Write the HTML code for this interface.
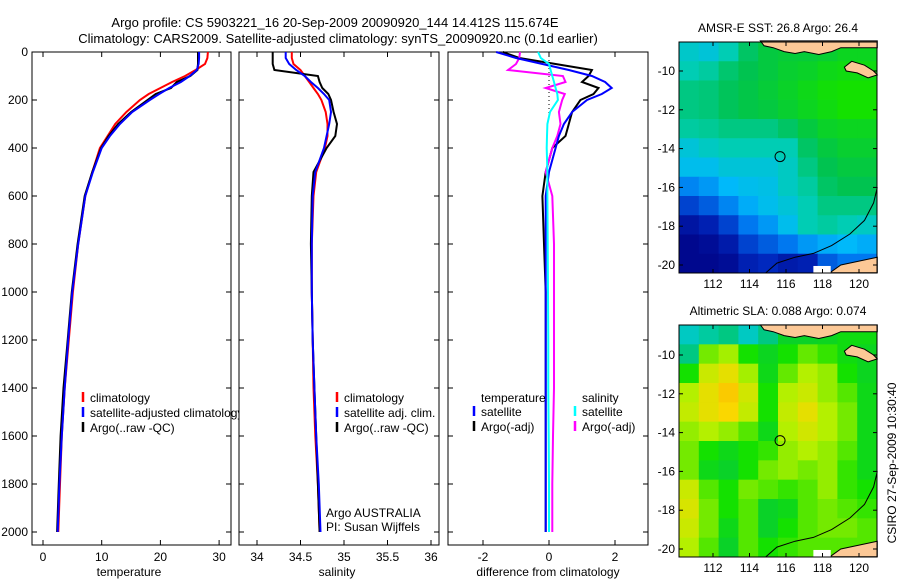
<!DOCTYPE html>
<html><head><meta charset="utf-8"><style>
html,body{margin:0;padding:0;background:#fff}
svg{display:block;font-family:"Liberation Sans",sans-serif}
</style></head><body>
<svg id="c" width="900" height="580" xmlns="http://www.w3.org/2000/svg">
<defs><clipPath id="cp1"><rect x="0" y="0" width="239" height="580"/></clipPath></defs>
<text x="335" y="27" font-size="13" text-anchor="middle">Argo profile: CS 5903221_16 20-Sep-2009 20090920_144 14.412S 115.674E</text>
<text x="338" y="43" font-size="13" text-anchor="middle">Climatology: CARS2009. Satellite-adjusted climatology: synTS_20090920.nc (0.1d earlier)</text>
</svg>
<script>
// ---- data ----
const depthTicks=[0,200,400,600,800,1000,1200,1400,1600,1800,2000];
const tempTicks=[0,10,20,30];
const salTicks=[34,34.5,35,35.5,36];
const salTickLabels=["34","34.5","35","35.5","36"];
const diffTicks=[-2,0,2];
const depths=[0,25,50,75,100,125,150,175,200,250,300,350,400,500,600,800,1000,1200,1400,1600,1800,2000];
const tempClim=[28.1,28.0,27.6,26.0,24.2,22.0,20.0,18.0,16.5,14.2,12.3,11.0,9.7,8.4,7.2,6.0,5.1,4.4,3.7,3.2,2.9,2.6];
const tempSat=[26.6,26.6,26.5,26.2,25.0,23.5,21.5,19.8,18.2,15.2,13.1,11.4,10.0,8.5,7.2,6.0,5.0,4.3,3.7,3.2,2.8,2.5];
const tempArgo=[26.4,26.4,26.4,26.3,25.1,22.8,21.8,19.2,17.8,15.0,12.8,11.2,9.9,8.4,7.1,5.9,4.9,4.2,3.5,3.0,2.7,2.4];
const salClim=[34.4,34.4,34.42,34.5,34.55,34.6,34.65,34.7,34.74,34.79,34.81,34.81,34.78,34.68,34.65,34.63,34.63,34.64,34.65,34.67,34.7,34.72];
const salSat=[34.33,34.33,34.37,34.45,34.55,34.62,34.7,34.77,34.83,34.85,34.83,34.8,34.77,34.67,34.64,34.63,34.63,34.64,34.66,34.68,34.71,34.73];
const salArgo=[34.18,34.18,34.18,34.2,34.7,34.72,34.75,34.82,34.85,34.88,34.92,34.9,34.8,34.65,34.63,34.62,34.63,34.64,34.66,34.68,34.7,34.72];
const dTempSat=[-1.6,-1.0,-0.2,0.6,1.3,1.7,1.9,1.6,1.15,0.7,0.45,0.3,0.2,0.0,-0.1,-0.1,-0.1,-0.1,-0.1,-0.1,-0.1,-0.1];
const dTempArgo=[-1.4,-0.9,0.2,1.3,1.2,1.0,1.5,1.35,0.95,0.7,0.6,0.5,0.1,-0.1,-0.2,-0.15,-0.1,-0.1,-0.1,-0.1,-0.1,-0.1];
const dSalSat=[-0.33,-0.25,0.0,0.05,0.1,0.15,0.2,0.25,0.27,0.03,-0.05,-0.06,-0.07,-0.05,-0.05,-0.04,-0.03,-0.02,-0.02,-0.01,0.0,0.0];
const dSalArgo=[-0.88,-0.9,-1.0,-1.24,0.42,0.5,-0.1,0.48,0.4,0.3,0.35,0.25,0.1,-0.1,0.1,0.15,0.15,0.15,0.15,0.12,0.1,0.1];
const lonTicks=[112,114,116,118,120];
const latTicks=[-10,-12,-14,-16,-18,-20];
const sstGrid=[
[.47,.45,.5,.58,.62,.63,.63,.64,.66,.66],
[.5,.52,.57,.6,.62,.64,.65,.67,.68,.68],
[.55,.56,.59,.61,.63,.65,.67,.69,.7,.7],
[.55,.56,.59,.61,.62,.64,.66,.68,.7,.7],
[.52,.53,.55,.55,.55,.58,.62,.65,.66,.66],
[.45,.48,.5,.5,.5,.5,.58,.62,.64,.64],
[.42,.42,.45,.45,.45,.48,.55,.6,.62,.62],
[.32,.35,.4,.42,.43,.48,.52,.58,.6,.6],
[.2,.25,.32,.38,.42,.45,.5,.55,.55,.55],
[.08,.12,.2,.3,.35,.42,.5,.52,.5,.48],
[.03,.05,.1,.2,.25,.3,.35,.38,.4,.38],
[.03,.03,.05,.12,.15,.1,.12,.25,.3,.3]];
const slaGrid=[
[.48,.52,.55,.48,.55,.65,.65,.66,.68,.68],
[.55,.76,.79,.7,.66,.7,.75,.72,.68,.66],
[.7,.83,.87,.79,.67,.75,.8,.78,.7,.66],
[.8,.87,.92,.84,.7,.8,.83,.78,.74,.67],
[.82,.87,.9,.82,.7,.82,.87,.8,.76,.67],
[.78,.8,.78,.74,.67,.8,.84,.8,.76,.67],
[.76,.7,.67,.7,.72,.78,.8,.78,.74,.67],
[.76,.67,.65,.7,.76,.78,.76,.78,.72,.67],
[.83,.74,.7,.76,.74,.72,.74,.78,.72,.7],
[.85,.76,.7,.74,.65,.67,.74,.76,.74,.72],
[.83,.76,.67,.74,.65,.7,.74,.76,.76,.74],
[.8,.74,.65,.74,.7,.72,.74,.74,.74,.74]];
const argoLon=115.674, argoLat=-14.412;
const coastLon=[114.9,115.5,116.5,117.5,118.5,119.5,120.3,120.8,121];
const coastLat=[-20.4,-19.9,-19.6,-19.4,-19.0,-18.4,-17.7,-16.8,-16.0];
// ---- helpers ----
const S=document.getElementById('c'),NS='http://www.w3.org/2000/svg';
function mk(t,a,p){const e=document.createElementNS(NS,t);for(const k in a)e.setAttribute(k,a[k]);(p||S).appendChild(e);return e;}
const yD=d=>52+d*0.24;
const xT=v=>43+v*5.87;
const xS=v=>257+(v-34)*87;
const xDf=v=>549+v*33;
function panel(x0,x1,name){
  const r=mk('rect',{x:x0,y:52,width:x1-x0,height:493,fill:'none',stroke:'#000','stroke-width':1});
  
  
  depthTicks.forEach(d=>{mk('line',{x1:x0,x2:x0+5,y1:yD(d),y2:yD(d),stroke:'#000'});mk('line',{x1:x1,x2:x1-5,y1:yD(d),y2:yD(d),stroke:'#000'});});
}
function xticks(vals,labels,fx,title,tx,name){
  vals.forEach((v,i)=>{const x=fx(v);mk('line',{x1:x,x2:x,y1:52,y2:57,stroke:'#000'});mk('line',{x1:x,x2:x,y1:545,y2:540,stroke:'#000'});
    const t=mk('text',{x:x,y:561,'font-size':12,'text-anchor':'middle'});t.textContent=labels[i];
    
    });
  const t=mk('text',{x:tx,y:576,'font-size':12,'text-anchor':'middle'});t.textContent=title;
  
  
}
function line(vals,fx,col,w,name){
  const pts=vals.map((v,i)=>fx(v).toFixed(1)+','+yD(depths[i]).toFixed(1)).join(' ');
  const p=mk('polyline',{points:pts,fill:'none',stroke:col,'stroke-width':w});
  
  
}
function legend(x,y,col,txt,p){
  if(col)mk('line',{x1:x,x2:x,y1:y-10,y2:y,stroke:col,'stroke-width':2.5},p);
  const t=mk('text',{x:x+7,y:y,'font-size':12},p);t.textContent=txt;
  
  
}
depthTicks.forEach(d=>{const t=mk('text',{x:28,y:yD(d)+4,'font-size':12,'text-anchor':'end'});t.textContent=d;
  
  });
panel(32,231,'temperature-panel');
xticks(tempTicks,tempTicks.map(String),xT,'temperature',129,'temperature-axis-title');
line(tempClim,xT,'#f00',2,'temp-climatology-line');
line(tempArgo,xT,'#000',2,'temp-argo-line');
line(tempSat,xT,'#00f',2,'temp-satellite-line');
const g1=mk('g',{'clip-path':'url(#cp1)'});
legend(83,402,'#f00','climatology',g1);legend(83,417,'#00f','satellite-adjusted climatology',g1);legend(83,432,'#000','Argo(..raw -QC)',g1);
panel(239,439,'salinity-panel');
xticks(salTicks,salTickLabels,xS,'salinity',337,'salinity-axis-title');
line(salClim,xS,'#f00',2,'sal-climatology-line');
line(salArgo,xS,'#000',2,'sal-argo-line');
line(salSat,xS,'#00f',2,'sal-satellite-line');
legend(337,402,'#f00','climatology');legend(337,417,'#00f','satellite adj. clim.');legend(337,432,'#000','Argo(..raw -QC)');
let t=mk('text',{x:326,y:517,'font-size':12});t.textContent='Argo AUSTRALIA';


t=mk('text',{x:326,y:531,'font-size':12});t.textContent='PI: Susan Wijffels';


panel(448,648,'difference-panel');
xticks(diffTicks,diffTicks.map(String),xDf,'difference from climatology',548,'difference-axis-title');
mk('line',{x1:xDf(0),x2:xDf(0),y1:52,y2:yD(260),stroke:'#000','stroke-dasharray':'1,3'});
line(dTempArgo,xDf,'#000',2,'diff-temp-argo-line');
line(dSalArgo,xDf,'#f0f',2,'diff-sal-argo-line');
line(dTempSat,xDf,'#00f',2,'diff-temp-satellite-line');
line(dSalSat,xDf,'#0ff',2,'diff-sal-satellite-line');
legend(474,402,null,'temperature');legend(474,416,'#00f','satellite');legend(474,431,'#000','Argo(-adj)');
legend(575,402,null,'salinity');legend(575,416,'#0ff','satellite');legend(575,431,'#f0f','Argo(-adj)');
// ---- maps ----
const stops=[[0,0,0,130],[.15,0,40,190],[.3,0,120,240],[.4,0,185,250],[.5,0,205,180],[.6,0,195,80],[.7,20,225,0],[.8,180,240,0],[.9,250,215,0],[1,250,150,0]];
function cmap(v){for(let i=1;i<stops.length;i++){if(v<=stops[i][0]){const a=stops[i-1],b=stops[i],f=(v-a[0])/(b[0]-a[0]);
 return 'rgb('+[1,2,3].map(k=>Math.round(a[k]+f*(b[k]-a[k]))).join(',')+')';}}return 'rgb(250,150,0)';}
const mx=lon=>713+(lon-112)*18.25;
function drawMap(grid,y10,top,bot,title,name){
  const my=lat=>y10+(-10-lat)*19.4;
  const L=679,R=877,rows=grid.length,cols=grid[0].length,cw=(R-L)/cols,ch=(bot-top)/rows;
  const g=mk('g',{});
  
  
  grid.forEach((row,i)=>row.forEach((v,j)=>{mk('rect',{x:L+j*cw,y:top+i*ch,width:cw+0.5,height:ch+0.5,fill:cmap(v)},g);}));
  const land='#fcc896';
  const poly=(pts,fill,nm)=>{const p=mk('polygon',{points:pts.map(q=>mx(q[0]).toFixed(1)+','+my(q[1]).toFixed(1)).join(' '),fill:fill,stroke:'#000','stroke-width':1},g);
    
    };
  poly([[114.6,-8.45],[114.8,-8.7],[115.3,-8.8],[115.9,-9.0],[116.5,-9.1],[117,-9.0],[117.8,-9.15],[118.5,-9.0],[119,-8.8],[121,-8.8],[121,-8.45]],land,'land-top');
  poly([[119.2,-9.8],[119.6,-9.5],[120.3,-9.7],[120.8,-10.0],[121,-10.2],[120.5,-10.35],[119.9,-10.1],[119.3,-10.0]],land,'land-island');
  poly([[118.4,-20.4],[119,-20.0],[120,-19.8],[121,-19.6],[121,-20.4]],land,'land-bottom');
  mk('rect',{x:mx(117.5),y:my(-20.05),width:mx(118.45)-mx(117.5),height:bot-my(-20.05),fill:'#fff'},g);
  const cl=mk('polyline',{points:coastLon.map((lo,i)=>mx(lo).toFixed(1)+','+my(coastLat[i]).toFixed(1)).join(' '),fill:'none',stroke:'#000','stroke-width':1},g);
  
  
  const c=mk('circle',{cx:mx(argoLon),cy:my(argoLat),r:5,fill:'none',stroke:'#000','stroke-width':1},g);
  
  
  mk('rect',{x:L,y:top,width:R-L,height:bot-top,fill:'none',stroke:'#000'});
  lonTicks.forEach(lo=>{const x=mx(lo);mk('line',{x1:x,x2:x,y1:top,y2:top+4,stroke:'#000'});mk('line',{x1:x,x2:x,y1:bot,y2:bot-4,stroke:'#000'});
    const tt=mk('text',{x:x,y:bot+15,'font-size':12,'text-anchor':'middle'});tt.textContent=lo;
    
    });
  latTicks.forEach(la=>{const y=my(la);mk('line',{x1:L,x2:L+4,y1:y,y2:y,stroke:'#000'});mk('line',{x1:R,x2:R-4,y1:y,y2:y,stroke:'#000'});
    const tt=mk('text',{x:L-4,y:y+4,'font-size':12,'text-anchor':'end'});tt.textContent=la;
    
    });
  const tt=mk('text',{x:778,y:top-10,'font-size':12,'text-anchor':'middle'});tt.textContent=title;
  
  
}
drawMap(sstGrid,71,42,273,'AMSR-E SST: 26.8 Argo: 26.4','sst-map');
drawMap(slaGrid,355,325,557,'Altimetric SLA: 0.088 Argo: 0.074','sla-map');
t=mk('text',{x:0,y:0,'font-size':12,'text-anchor':'middle',transform:'translate(896,463) rotate(-90)'});t.textContent='CSIRO 27-Sep-2009 10:30:40';


</script>
</body></html>
